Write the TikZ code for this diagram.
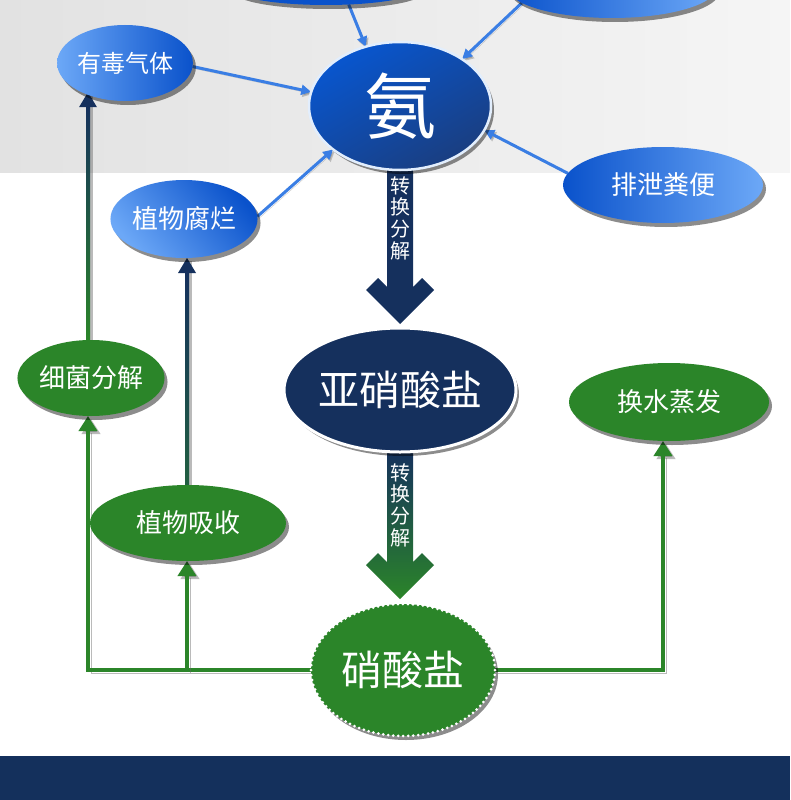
\documentclass[tikz,border=0pt]{standalone}
\usepackage{fontspec}
\newfontfamily\cjk{Noto Sans CJK SC}
\usetikzlibrary{shapes.geometric,shadows,arrows.meta,calc}
\definecolor{cNavy}{HTML}{15305D}
\definecolor{cGreen}{HTML}{2B8529}
\definecolor{cBlueL}{HTML}{6CA8F7}
\definecolor{cBlueD}{HTML}{0A52CB}
\definecolor{cArrow}{HTML}{3A7EE4}
\definecolor{cBand}{HTML}{14305C}
\definecolor{cAnTop}{HTML}{0856CF}
\definecolor{cAnBot}{HTML}{1A3E80}
\definecolor{cGrayL}{HTML}{E2E2E2}
\definecolor{cGrayR}{HTML}{F5F5F5}
\pgfdeclarelayer{back}\pgfdeclarelayer{conn}
\pgfsetlayers{back,conn,main}
\begin{document}
\begin{tikzpicture}[x=1pt,y=-1pt,
  ell/.style={ellipse, inner sep=0pt, outer sep=0pt, text=white,
    font=\cjk\fontsize{26}{26}\selectfont,
    drop shadow={shadow xshift=3pt,shadow yshift=-4pt,opacity=.45,fill=black}},
  sz/.style 2 args={minimum width=#1pt, minimum height=#2pt},
  bluegrad/.style={left color=cBlueL, right color=cBlueD},
  bluegradr/.style={left color=cBlueD, right color=cBlueL},
  bluearr/.style={draw=cArrow, line width=3pt, -{Triangle[width=10pt,length=10pt]},
    preaction={draw=black!60, opacity=.35, transform canvas={shift={(1.5pt,-2pt)}}}},
  gline/.style={draw=cGreen, line width=4pt, line join=miter,
    preaction={draw=black!60, opacity=.45, transform canvas={shift={(3pt,-3pt)}}}},
  gtip/.style={-{Triangle[width=18pt,length=15pt]}},
  shline/.style={draw=black!60, opacity=.45, line width=4pt, transform canvas={shift={(3pt,-3pt)}}},
  arrtext/.style={text=white, align=center, inner sep=0pt, font=\cjk\fontsize{20}{21.7}\selectfont}
]
\useasboundingbox (0,0) rectangle (790,800);
\begin{pgfonlayer}{back}
  \fill[white] (0,0) rectangle (790,800);
  \shade[left color=cGrayL, right color=cGrayR] (0,0) rectangle (790,172);
  \fill[cBand] (0,756) rectangle (790,800);
\end{pgfonlayer}

% nodes
\node[ell, sz={182}{128}, top color=cAnTop, bottom color=cAnBot, shading angle=30,
  draw=white!80!cBlueL, line width=2.5pt, font=\cjk\fontsize{72}{72}\selectfont] (an) at (400,106) {氨};
\node[ell, sz={130}{76}, bluegrad, font=\cjk\fontsize{24}{24}\selectfont] (tox) at (125,63) {有毒气体};
\node[ell, sz={136}{78}, top color=cBlueD, bottom color=cBlueL, shading angle=-50] (zwfl) at (184,219) {植物腐烂};
\node[ell, sz={200}{76}, bluegradr] (pxfb) at (663,185) {排泄粪便};
\node[ell, sz={190}{34}, fill=cBlueD] (tl) at (326,-12) {};
\node[ell, sz={210}{62}, bluegradr] (tr) at (612,-13) {};
\node[ell, sz={186}{124}, fill=cNavy, draw=white, line width=3pt,
  font=\cjk\fontsize{41}{41}\selectfont] (ynss) at (400,390) {亚硝酸盐};
\node[ell, sz={184}{132}, fill=cGreen, draw=white, line width=3pt,
  dash pattern=on 0pt off 5pt, line cap=round,
  font=\cjk\fontsize{41}{41}\selectfont] (xsy) at (403,670) {硝酸盐};
\node[ell, sz={136}{76}, fill=cGreen] (xj) at (91,378) {细菌分解};
\node[ell, sz={196}{76}, fill=cGreen] (zwxs) at (188,523) {植物吸收};
\node[ell, sz={200}{78}, fill=cGreen] (hzf) at (669,402) {换水蒸发};

\coordinate (L1) at (88,670);
\coordinate (L2) at (187,670);
\coordinate (R) at (663,670);

\begin{pgfonlayer}{conn}
  % blue arrows into ammonia
  \draw[bluearr] (tox.-3) -- (an.171);
  \draw[bluearr] (zwfl.2) -- (an.213);
  \draw[bluearr] (pxfb.173) -- (an.-16);
  \draw[bluearr] (tl.-36) -- (an.120);
  \draw[bluearr] (tr.190) -- (an.37);

  % line A: bacteria -> toxic gas
  \coordinate (tA) at (L1 |- tox.214);
  \draw[shline] (tA) -- (L1 |- xj.north);
  \shade[top color=cNavy, middle color=cNavy, bottom color=cGreen]
    ($(tA)+(-2,12)$) rectangle ($(L1 |- xj.north)+(2,0)$);
  \fill[cNavy] (tA) -- ++(-9,15) -- ++(18,0) -- cycle;

  % line B: plant absorption -> plant decay
  \coordinate (tB) at (L2 |- zwfl.south);
  \draw[shline] (tB) -- (L2 |- zwxs.north);
  \shade[top color=cNavy, bottom color=cNavy!45!cGreen]
    ($(tB)+(-2,12)$) rectangle ($(L2 |- zwxs.north)+(2,0)$);
  \fill[cNavy] (tB) -- ++(-9,15) -- ++(18,0) -- cycle;

  % green network
  \draw[gline, gtip] (xsy.west |- L1) -- (L1) -- (L1 |- xj.south);
  \draw[gline, gtip] (L2) -- (L2 |- zwxs.south);
  \draw[gline, gtip] (xsy.east |- R) -- (R) -- (R |- hzf.south);

  % big arrow 1
  \coordinate (T1) at ($(ynss.north)+(0,-4)$);
  \fill[cNavy] ($(an.south)+(-13,-3)$) -- ($(an.south)+(13,-3)$) -- ($(T1)+(13,-37)$)
    -- ($(T1)+(22,-46)$) -- ($(T1)+(34,-34)$) -- (T1) -- ($(T1)+(-34,-34)$)
    -- ($(T1)+(-22,-46)$) -- ($(T1)+(-13,-37)$) -- cycle;
  % big arrow 2
  \coordinate (T2) at ($(ynss.south |- xsy.north)+(0,-5)$);
  \shade[top color=cNavy, bottom color=cGreen] ($(ynss.south)+(-13,-3)$) -- ($(ynss.south)+(13,-3)$) -- ($(T2)+(13,-37)$)
    -- ($(T2)+(22,-46)$) -- ($(T2)+(34,-34)$) -- (T2) -- ($(T2)+(-34,-34)$)
    -- ($(T2)+(-22,-46)$) -- ($(T2)+(-13,-37)$) -- cycle;
\end{pgfonlayer}

\node[arrtext] (a1) at (400,218) {转\\换\\分\\解};
\node[arrtext] (a2) at (400,505) {转\\换\\分\\解};
\end{tikzpicture}
\end{document}
